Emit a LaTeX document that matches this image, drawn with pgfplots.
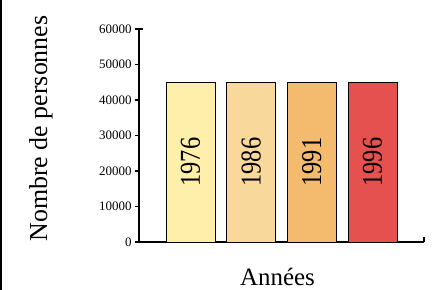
\documentclass[border=0pt]{standalone}
\usepackage{fontspec}
\setmainfont{Liberation Serif}
\usepackage{pgfplots}
\pgfplotsset{compat=1.18}
\definecolor{c1}{RGB}{254,240,170}
\definecolor{c2}{RGB}{249,216,156}
\definecolor{c3}{RGB}{244,186,110}
\definecolor{c4}{RGB}{229,81,78}
\newcommand{\barlab}[1]{\scalebox{1}[1.18]{#1}}
\begin{document}
\begin{tikzpicture}
\useasboundingbox (-139bp,-48bp) rectangle (302bp,242bp);
\draw[line width=2bp] (-138bp,-48bp) -- (-138bp,242bp);
\begin{axis}[
  at={(0,0)}, anchor=south west,
  scale only axis, width=285bp, height=213bp,
  xmin=-0.85, xmax=3.85, ymin=0, ymax=60000,
  axis lines=left,
  axis line style={-, line width=1.6bp},
  xtick=\empty,
  ytick={0,10000,20000,30000,40000,50000,60000},
  scaled y ticks=false,
  /pgf/number format/1000 sep={},
  /pgf/number format/assume math mode=true,
  yticklabel style={font=\fontsize{13}{14}\selectfont},
  tick align=outside, major tick length=4bp,
  tick style={line width=1.2bp, black},
  extra x ticks={3.85}, extra x tick labels={},
  extra x tick style={tick align=inside, major tick length=5bp},
  extra y ticks={60000}, extra y tick labels={},
  extra y tick style={tick align=inside, major tick length=4bp},
  ybar, bar width=49bp,
  ylabel={Nombre de personnes},
  ylabel style={at={(axis description cs:-0.344,0.533)}, anchor=center, font=\fontsize{26}{28}\selectfont},
  xlabel={Années},
  xlabel style={at={(axis description cs:0.486,0)}, anchor=base, yshift=-43bp, font=\fontsize{25}{27}\selectfont},
]
\addplot[fill=c1, draw=black, line width=0.6bp, bar shift=0pt] coordinates {(0,45000)};
\addplot[fill=c2, draw=black, line width=0.6bp, bar shift=0pt] coordinates {(1,45000)};
\addplot[fill=c3, draw=black, line width=0.6bp, bar shift=0pt] coordinates {(2,45000)};
\addplot[fill=c4, draw=black, line width=0.6bp, bar shift=0pt] coordinates {(3,45000)};
\node[rotate=90, font=\fontsize{24.5}{26}\selectfont] at (axis cs:0,22500) {\barlab{1976}};
\node[rotate=90, font=\fontsize{24.5}{26}\selectfont] at (axis cs:1,22500) {\barlab{1986}};
\node[rotate=90, font=\fontsize{24.5}{26}\selectfont] at (axis cs:2,22500) {\barlab{1991}};
\node[rotate=90, font=\fontsize{24.5}{26}\selectfont] at (axis cs:3,22500) {\barlab{1996}};
\end{axis}
\end{tikzpicture}
\end{document}
